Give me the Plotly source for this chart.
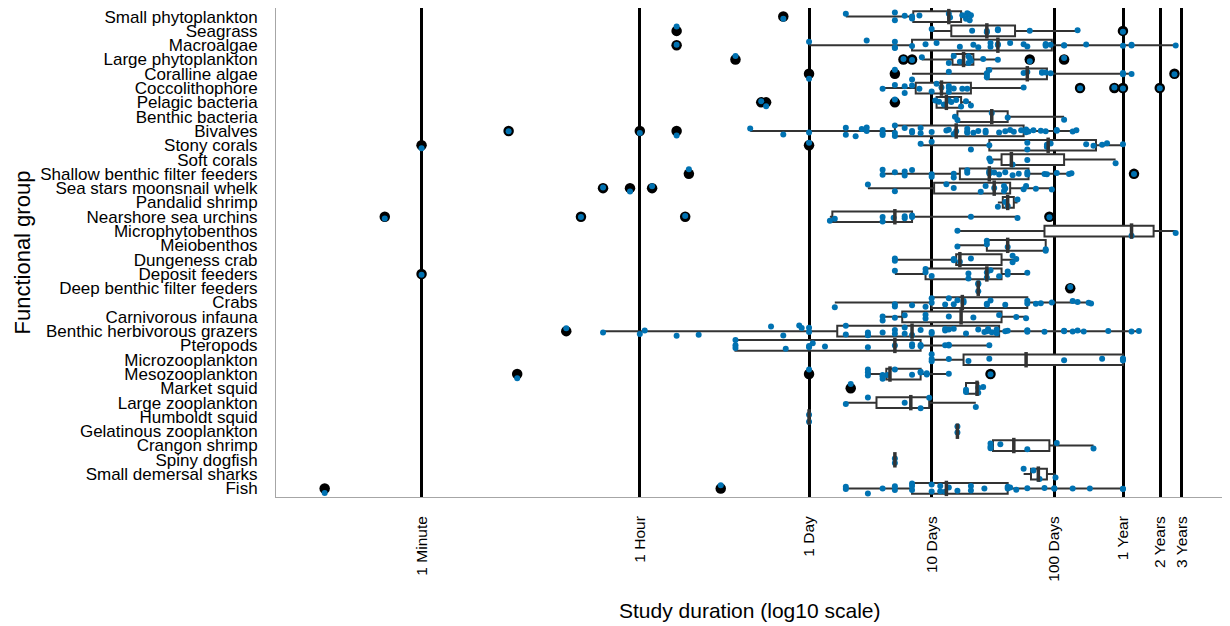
import numpy as np
import plotly.graph_objects as go

# Functional groups, top to bottom
categories = [
    "Small phytoplankton", "Seagrass", "Macroalgae", "Large phytoplankton",
    "Coralline algae", "Coccolithophore", "Pelagic bacteria", "Benthic bacteria",
    "Bivalves", "Stony corals", "Soft corals", "Shallow benthic filter feeders",
    "Sea stars moonsnail whelk", "Pandalid shrimp", "Nearshore sea urchins",
    "Microphytobenthos", "Meiobenthos", "Dungeness crab", "Deposit feeders",
    "Deep benthic filter feeders", "Crabs", "Carnivorous infauna",
    "Benthic herbivorous grazers", "Pteropods", "Microzooplankton",
    "Mesozooplankton", "Market squid", "Large zooplankton", "Humboldt squid",
    "Gelatinous zooplankton", "Crangon shrimp", "Spiny dogfish",
    "Small demersal sharks", "Fish",
]

# Study durations, log10(days), one list per functional group
small_phytoplankton = [-0.21, 0.30, 0.70, 0.70, 0.78, 0.84, 0.84, 0.84, 0.90, 1.14, 1.15, 1.25, 1.28, 1.29, 1.30, 1.31, 1.32]
seagrass = [-1.08, 1.00, 1.33, 1.45, 1.45, 1.54, 1.54, 1.80, 2.19, 2.56]
macroalgae = [-1.08, 0.00, 0.47, 0.70, 0.70, 0.70, 0.84, 0.95, 1.04, 1.23, 1.34, 1.38, 1.48, 1.48, 1.54, 1.54, 1.64, 1.75, 1.78, 1.93, 1.93, 1.93, 1.97, 2.08, 2.08, 2.26, 2.56, 2.63, 2.63, 2.99]
large_phytoplankton = [-0.60, 0.77, 0.84, 0.92, 1.14, 1.18, 1.23, 1.30, 1.30, 1.31, 1.32, 1.42, 1.54, 1.80, 2.08]
coralline_algae = [0.00, 0.70, 0.84, 1.14, 1.45, 1.45, 1.45, 1.47, 1.75, 1.78, 1.90, 1.90, 1.93, 1.97, 2.56, 2.56, 2.63, 2.98]
coccolithophore = [0.60, 0.70, 0.78, 0.78, 0.84, 0.90, 1.00, 1.04, 1.08, 1.14, 1.14, 1.14, 1.18, 1.25, 1.29, 1.75, 2.21, 2.49, 2.56, 2.86]
pelagic_bacteria = [-0.39, -0.35, 0.70, 1.03, 1.06, 1.10, 1.14, 1.16, 1.20, 1.24, 1.28, 1.32]
benthic_bacteria = [1.19, 1.21, 1.49, 1.62, 2.08]
bivalves = [-2.45, -1.38, -1.08, -0.48, -0.21, 0.00, 0.30, 0.30, 0.38, 0.43, 0.47, 0.47, 0.60, 0.60, 0.60, 0.70, 0.70, 0.70, 0.78, 0.84, 0.84, 0.91, 0.91, 1.00, 1.12, 1.14, 1.18, 1.20, 1.29, 1.29, 1.29, 1.34, 1.38, 1.44, 1.44, 1.55, 1.60, 1.64, 1.67, 1.73, 1.77, 1.77, 1.77, 1.79, 1.83, 1.89, 1.93, 2.02, 2.02, 2.15, 2.18]
stony_corals = [-3.16, 0.00, 0.91, 1.00, 1.32, 1.47, 1.78, 1.78, 1.94, 1.94, 1.94, 1.97, 2.26, 2.32, 2.39, 2.43, 2.56]
soft_corals = [1.47, 1.48, 1.66, 1.78, 2.50]
shallow_benthic_filter_feeders = [-0.98, 0.60, 0.60, 0.70, 0.78, 0.78, 0.84, 1.00, 1.00, 1.18, 1.18, 1.29, 1.29, 1.47, 1.47, 1.47, 1.51, 1.55, 1.60, 1.66, 1.71, 1.78, 1.78, 1.92, 1.94, 2.02, 2.12, 2.14, 2.65]
sea_stars_moonsnail_whelk = [-1.68, -1.46, -1.28, 0.48, 0.70, 1.12, 1.18, 1.40, 1.44, 1.51, 1.59, 1.59, 1.60, 1.75, 1.77, 1.85, 1.98]
pandalid_shrimp = [1.54, 1.60, 1.62, 1.70]
nearshore_sea_urchins = [-3.46, -1.86, -1.01, 0.17, 0.21, 0.60, 0.60, 0.69, 0.78, 0.78, 0.84, 0.84, 1.32, 1.70, 1.96]
microphytobenthos = [1.21, 2.63, 2.99]
meiobenthos = [1.21, 1.45, 1.45, 1.62, 1.93, 1.93]
dungeness_crab = [0.70, 0.70, 1.18, 1.18, 1.23, 1.32, 1.66, 1.66, 1.69]
deposit_feeders = [-3.16, 0.70, 0.95, 0.95, 1.00, 1.30, 1.30, 1.45, 1.45, 1.48, 1.55, 1.62, 1.62, 1.78]
deep_benthic_filter_feeders = [1.38, 1.38, 1.38, 2.13]
crabs = [0.21, 0.70, 0.70, 0.84, 0.95, 1.00, 1.00, 1.11, 1.14, 1.18, 1.21, 1.26, 1.26, 1.45, 1.45, 1.48, 1.60, 1.78, 1.78, 1.85, 1.89, 1.98, 2.15, 2.19, 2.28, 2.30]
carnivorous_infauna = [0.60, 0.60, 0.70, 0.78, 0.95, 0.95, 1.14, 1.34, 1.55, 1.69, 1.77]
benthic_herbivorous_grazers = [-1.98, -1.68, -1.38, -1.34, -1.08, -0.90, -0.31, -0.21, -0.08, -0.06, 0.00, 0.00, 0.30, 0.30, 0.48, 0.48, 0.48, 0.60, 0.70, 0.70, 0.78, 0.78, 0.84, 0.91, 1.00, 1.00, 1.11, 1.11, 1.14, 1.18, 1.28, 1.38, 1.43, 1.45, 1.46, 1.49, 1.53, 1.53, 1.60, 1.62, 1.78, 1.78, 1.78, 1.92, 2.08, 2.08, 2.15, 2.19, 2.24, 2.44, 2.63, 2.69]
pteropods = [-0.60, -0.60, -0.60, -0.19, 0.00, 0.00, 0.03, 0.13, 0.48, 0.70, 0.84, 0.84, 0.91, 0.91, 1.11, 1.14, 1.14, 1.47]
microzooplankton = [1.00, 1.00, 1.00, 1.14, 1.30, 1.47, 2.08, 2.39, 2.56, 2.56, 2.56]
mesozooplankton = [-2.38, 0.00, 0.48, 0.48, 0.48, 0.60, 0.60, 0.60, 0.64, 0.70, 0.84, 0.91, 0.91, 0.96, 0.96, 1.14, 1.48]
market_squid = [0.34, 1.28, 1.28, 1.38, 1.38, 1.42]
large_zooplankton = [0.30, 0.48, 0.78, 0.91, 0.98, 1.36]
humboldt_squid = [0.00, 0.00]
gelatinous_zooplankton = [1.21, 1.21]
crangon_shrimp = [1.48, 1.48, 1.48, 1.56, 1.78, 2.02, 2.32]
spiny_dogfish = [0.70, 0.70]
small_demersal_sharks = [1.75, 1.83, 1.88, 2.01]
fish = [-3.95, -0.72, 0.30, 0.30, 0.48, 0.60, 0.70, 0.70, 0.84, 0.84, 0.84, 1.00, 1.00, 1.07, 1.07, 1.11, 1.14, 1.21, 1.32, 1.32, 1.43, 1.62, 1.62, 1.64, 1.69, 1.78, 1.92, 2.00, 2.00, 2.15, 2.29, 2.56, 2.56]

durations = [
    small_phytoplankton, seagrass, macroalgae, large_phytoplankton, coralline_algae,
    coccolithophore, pelagic_bacteria, benthic_bacteria, bivalves, stony_corals,
    soft_corals, shallow_benthic_filter_feeders, sea_stars_moonsnail_whelk,
    pandalid_shrimp, nearshore_sea_urchins, microphytobenthos, meiobenthos,
    dungeness_crab, deposit_feeders, deep_benthic_filter_feeders, crabs,
    carnivorous_infauna, benthic_herbivorous_grazers, pteropods, microzooplankton,
    mesozooplankton, market_squid, large_zooplankton, humboldt_squid,
    gelatinous_zooplankton, crangon_shrimp, spiny_dogfish, small_demersal_sharks, fish,
]

# Box statistics, log10(days)
whisker_low = [0.30, 1.00, 0.00, 0.92, 0.84, 0.60, 1.03, 1.19, -0.48, 0.91, 1.47, 0.60, 0.48, 1.54, 0.17, 1.21, 1.21, 0.70, 0.70, 1.38, 0.21, 0.60, -1.68, -0.60, 1.00, 0.48, 1.28, 0.30, 0.00, 1.21, 1.48, 0.70, 1.75, 0.30]
q1 = [0.85, 1.16, 0.84, 1.17, 1.45, 0.87, 1.04, 1.21, 0.70, 1.47, 1.57, 1.23, 1.02, 1.58, 0.19, 1.92, 1.45, 1.20, 0.95, 1.38, 1.00, 0.76, 0.23, -0.60, 1.26, 0.63, 1.28, 0.55, 0.00, 1.21, 1.50, 0.70, 1.81, 0.84]
median = [1.14, 1.45, 1.54, 1.26, 1.78, 1.08, 1.12, 1.49, 1.20, 1.95, 1.65, 1.47, 1.51, 1.62, 0.70, 2.63, 1.62, 1.23, 1.45, 1.38, 1.25, 1.24, 0.84, 0.70, 1.77, 0.66, 1.37, 0.83, 0.00, 1.21, 1.67, 0.70, 1.87, 1.12]
q3 = [1.24, 1.68, 1.98, 1.34, 1.94, 1.32, 1.24, 1.62, 1.75, 2.34, 2.08, 1.79, 1.64, 1.67, 0.84, 2.81, 1.93, 1.57, 1.57, 1.38, 1.78, 1.57, 1.55, 0.91, 2.56, 0.91, 1.38, 0.98, 0.00, 1.21, 1.96, 0.70, 1.94, 1.62]
whisker_high = [1.32, 2.19, 2.99, 1.54, 2.63, 1.75, 1.32, 2.08, 2.18, 2.56, 2.50, 2.14, 1.98, 1.70, 1.70, 2.99, 1.93, 1.69, 1.78, 1.38, 2.30, 1.77, 2.69, 1.47, 2.56, 1.14, 1.42, 1.36, 0.00, 1.21, 2.32, 0.70, 2.01, 2.56]

tick_days = [1 / 1440, 1 / 24, 1, 10, 100, 365, 730, 1095]
tick_text = ["1 Minute", "1 Hour", "1 Day", "10 Days", "100 Days", "1 Year", "2 Years", "3 Years"]

BLUE = "#0072B2"
BOX = "#333333"
FONT = "Liberation Sans, Arial, sans-serif"

def days(v):
    return (10.0 ** np.asarray(v, dtype=float)).tolist()

pt_x, pt_y, out_x, out_y = [], [], [], []
for cat, vals, lo, hi in zip(categories, durations, whisker_low, whisker_high):
    for v in vals:
        pt_x.append(v)
        pt_y.append(cat)
        if v < lo - 1e-9 or v > hi + 1e-9:
            out_x.append(v)
            out_y.append(cat)

fig = go.Figure()

# Boxes (precomputed statistics)
fig.add_trace(go.Box(
    y=categories, orientation="h",
    q1=days(q1), median=days(median), q3=days(q3),
    lowerfence=days(whisker_low), upperfence=days(whisker_high),
    width=0.75, whiskerwidth=0,
    fillcolor="white", line=dict(color=BOX, width=2),
    boxpoints=False, showlegend=False, hoverinfo="skip",
))

# Outliers (black, large)
fig.add_trace(go.Box(
    x=days(out_x), y=out_y, orientation="h",
    boxpoints="all", jitter=0, pointpos=0, width=0.75,
    fillcolor="rgba(0,0,0,0)", line=dict(width=0, color="rgba(0,0,0,0)"),
    marker=dict(color="black", size=10.5),
    showlegend=False, hoverinfo="x",
))

# All observations (blue, jittered)
fig.add_trace(go.Box(
    x=days(pt_x), y=pt_y, orientation="h",
    boxpoints="all", jitter=1, pointpos=0, width=0.8,
    fillcolor="rgba(0,0,0,0)", line=dict(width=0, color="rgba(0,0,0,0)"),
    marker=dict(color=BLUE, size=6),
    showlegend=False, hoverinfo="x",
))

# Thick median bars
fig.add_trace(go.Scatter(
    x=days(median), y=categories, mode="markers",
    marker=dict(symbol="line-ns", size=11, line=dict(width=3.5, color=BOX)),
    showlegend=False, hoverinfo="skip",
))

# The page body adds an 8px offset; the figure is sized to compensate.
fig.update_layout(
    width=1222, height=618,
    margin=dict(l=268, r=6, t=0, b=129),
    paper_bgcolor="white", plot_bgcolor="white",
    boxmode="overlay",
    font=dict(family=FONT, color="black"),
    xaxis=dict(
        type="log", range=[-4.347, 3.384],
        tickvals=tick_days, ticktext=tick_text, tickangle=-90,
        tickfont=dict(size=15.5, family=FONT, color="black"),
        ticks="", ticklabelstandoff=12,
        showgrid=True, gridcolor="black", gridwidth=2.5,
        showline=True, linecolor="#a6a6a6", linewidth=1, mirror=True,
        zeroline=False, automargin=False,
    ),
    yaxis=dict(
        type="category", categoryorder="array", categoryarray=categories,
        tickmode="array", tickvals=categories, ticktext=categories,
        range=[len(categories) - 1 + 0.6, -0.6],
        tickfont=dict(size=17, family=FONT, color="black"),
        ticks="", ticklabelstandoff=14,
        showgrid=False,
        showline=True, linecolor="#a6a6a6", linewidth=1, mirror=True,
        zeroline=False, automargin=False,
    ),
    annotations=[
        dict(text="Study duration (log10 scale)", xref="paper", yref="paper",
             x=0.5, y=0, xanchor="center", yanchor="middle", yshift=-113,
             showarrow=False, font=dict(size=21, family=FONT, color="black")),
        dict(text="Functional group", xref="paper", yref="paper",
             x=0, y=0.5, xanchor="center", yanchor="middle", xshift=-254,
             textangle=-90, showarrow=False,
             font=dict(size=22, family=FONT, color="black")),
    ],
)

fig.write_html("out.html")
